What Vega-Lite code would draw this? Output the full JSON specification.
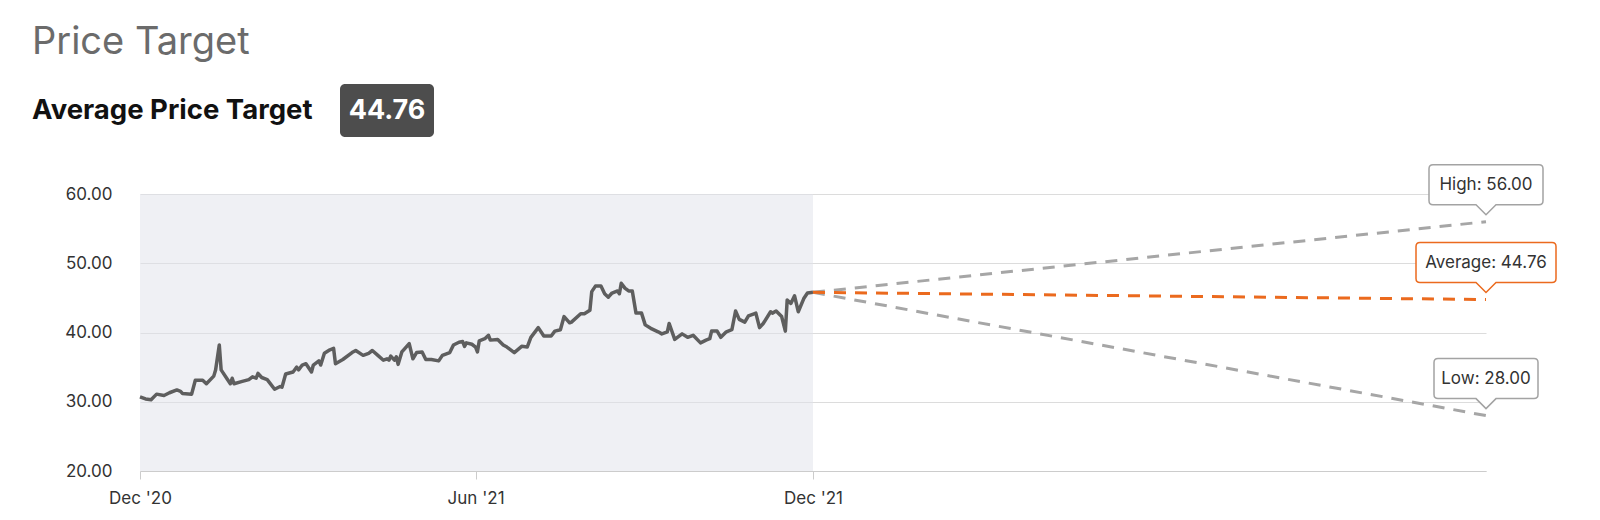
{
  "$schema": "https://vega.github.io/schema/vega-lite/v6.json",
  "width": 1346,
  "height": 277,
  "autosize": {"type": "none"},
  "padding": {"left": 140, "top": 194, "right": 114, "bottom": 49},
  "background": "white",
  "config": {
    "view": {"stroke": null},
    "font": "Inter"
  },
  "title": {
    "text": "Price Target",
    "subtitle": "Average Price Target",
    "anchor": "start",
    "frame": "group",
    "dx": -108,
    "offset": 60,
    "dy": 100,
    "font": "Inter",
    "fontSize": 38,
    "fontWeight": "normal",
    "color": "#6b6b6b",
    "subtitleFont": "Inter",
    "subtitleFontSize": 27.5,
    "subtitleFontWeight": "bold",
    "subtitleColor": "#111111",
    "subtitlePadding": 35
  },
  "datasets": {
    "shade": [{"start": "2020-12-01", "end": "2021-12-01"}],
    "summary": [{"label": "Average Price Target", "value": "44.76"}],
    "prices": [
      {"date": "2020-12-01", "price": 30.7},
      {"date": "2020-12-04", "price": 30.4},
      {"date": "2020-12-07", "price": 30.3},
      {"date": "2020-12-10", "price": 31.1},
      {"date": "2020-12-14", "price": 30.9},
      {"date": "2020-12-17", "price": 31.3},
      {"date": "2020-12-21", "price": 31.7},
      {"date": "2020-12-23", "price": 31.5},
      {"date": "2020-12-24", "price": 31.2},
      {"date": "2020-12-29", "price": 31.1},
      {"date": "2020-12-31", "price": 33.1},
      {"date": "2021-01-04", "price": 33.1},
      {"date": "2021-01-06", "price": 32.6},
      {"date": "2021-01-10", "price": 33.7},
      {"date": "2021-01-11", "price": 34.6},
      {"date": "2021-01-13", "price": 38.2},
      {"date": "2021-01-14", "price": 34.6},
      {"date": "2021-01-17", "price": 33.4},
      {"date": "2021-01-19", "price": 32.6},
      {"date": "2021-01-20", "price": 33.4},
      {"date": "2021-01-21", "price": 32.6},
      {"date": "2021-01-25", "price": 32.9},
      {"date": "2021-01-29", "price": 33.2},
      {"date": "2021-01-31", "price": 33.6},
      {"date": "2021-02-02", "price": 33.4},
      {"date": "2021-02-03", "price": 34.1},
      {"date": "2021-02-05", "price": 33.5},
      {"date": "2021-02-08", "price": 33.2},
      {"date": "2021-02-12", "price": 31.8},
      {"date": "2021-02-15", "price": 32.2},
      {"date": "2021-02-16", "price": 32.1},
      {"date": "2021-02-18", "price": 34.0},
      {"date": "2021-02-22", "price": 34.3},
      {"date": "2021-02-24", "price": 35.0},
      {"date": "2021-02-25", "price": 34.6},
      {"date": "2021-02-27", "price": 35.3},
      {"date": "2021-03-01", "price": 35.5},
      {"date": "2021-03-04", "price": 34.3},
      {"date": "2021-03-05", "price": 35.3},
      {"date": "2021-03-08", "price": 35.9},
      {"date": "2021-03-09", "price": 35.3},
      {"date": "2021-03-11", "price": 37.0},
      {"date": "2021-03-14", "price": 37.5},
      {"date": "2021-03-16", "price": 37.7},
      {"date": "2021-03-17", "price": 35.5},
      {"date": "2021-03-21", "price": 36.1},
      {"date": "2021-03-26", "price": 37.1},
      {"date": "2021-03-28", "price": 37.4},
      {"date": "2021-04-01", "price": 36.7},
      {"date": "2021-04-04", "price": 37.0},
      {"date": "2021-04-06", "price": 37.4},
      {"date": "2021-04-09", "price": 36.7},
      {"date": "2021-04-12", "price": 36.0},
      {"date": "2021-04-14", "price": 36.2},
      {"date": "2021-04-15", "price": 36.0},
      {"date": "2021-04-16", "price": 36.6},
      {"date": "2021-04-18", "price": 36.0},
      {"date": "2021-04-19", "price": 36.5},
      {"date": "2021-04-20", "price": 35.4},
      {"date": "2021-04-22", "price": 37.2},
      {"date": "2021-04-23", "price": 37.5},
      {"date": "2021-04-26", "price": 38.4},
      {"date": "2021-04-28", "price": 36.2},
      {"date": "2021-04-30", "price": 37.1},
      {"date": "2021-05-03", "price": 37.2},
      {"date": "2021-05-05", "price": 36.1},
      {"date": "2021-05-08", "price": 36.1},
      {"date": "2021-05-12", "price": 35.9},
      {"date": "2021-05-14", "price": 36.7},
      {"date": "2021-05-18", "price": 37.1},
      {"date": "2021-05-20", "price": 38.2},
      {"date": "2021-05-23", "price": 38.6},
      {"date": "2021-05-25", "price": 38.7},
      {"date": "2021-05-26", "price": 38.0},
      {"date": "2021-05-27", "price": 38.5},
      {"date": "2021-05-30", "price": 38.3},
      {"date": "2021-06-01", "price": 37.9},
      {"date": "2021-06-02", "price": 37.2},
      {"date": "2021-06-03", "price": 38.8},
      {"date": "2021-06-06", "price": 39.1},
      {"date": "2021-06-08", "price": 39.6},
      {"date": "2021-06-09", "price": 38.9},
      {"date": "2021-06-13", "price": 39.0},
      {"date": "2021-06-16", "price": 38.2},
      {"date": "2021-06-18", "price": 37.9},
      {"date": "2021-06-22", "price": 37.1},
      {"date": "2021-06-26", "price": 38.0},
      {"date": "2021-06-29", "price": 37.9},
      {"date": "2021-07-01", "price": 39.3},
      {"date": "2021-07-05", "price": 40.7},
      {"date": "2021-07-08", "price": 39.5},
      {"date": "2021-07-12", "price": 39.5},
      {"date": "2021-07-14", "price": 40.2},
      {"date": "2021-07-17", "price": 40.4},
      {"date": "2021-07-19", "price": 42.3},
      {"date": "2021-07-22", "price": 41.4},
      {"date": "2021-07-23", "price": 41.5},
      {"date": "2021-07-28", "price": 42.7},
      {"date": "2021-07-30", "price": 42.7},
      {"date": "2021-08-02", "price": 43.2},
      {"date": "2021-08-03", "price": 45.9},
      {"date": "2021-08-05", "price": 46.7},
      {"date": "2021-08-08", "price": 46.7},
      {"date": "2021-08-10", "price": 45.6},
      {"date": "2021-08-12", "price": 45.1},
      {"date": "2021-08-14", "price": 45.7},
      {"date": "2021-08-17", "price": 46.0},
      {"date": "2021-08-18", "price": 45.6},
      {"date": "2021-08-19", "price": 47.1},
      {"date": "2021-08-21", "price": 46.4},
      {"date": "2021-08-23", "price": 46.0},
      {"date": "2021-08-25", "price": 46.0},
      {"date": "2021-08-27", "price": 42.8},
      {"date": "2021-08-30", "price": 42.8},
      {"date": "2021-09-01", "price": 41.1},
      {"date": "2021-09-04", "price": 40.6},
      {"date": "2021-09-08", "price": 40.1},
      {"date": "2021-09-10", "price": 39.8},
      {"date": "2021-09-13", "price": 40.1},
      {"date": "2021-09-14", "price": 41.3},
      {"date": "2021-09-17", "price": 39.0},
      {"date": "2021-09-21", "price": 39.8},
      {"date": "2021-09-24", "price": 39.3},
      {"date": "2021-09-27", "price": 39.6},
      {"date": "2021-10-01", "price": 38.5},
      {"date": "2021-10-04", "price": 38.9},
      {"date": "2021-10-06", "price": 39.1},
      {"date": "2021-10-07", "price": 40.2},
      {"date": "2021-10-10", "price": 40.2},
      {"date": "2021-10-12", "price": 39.3},
      {"date": "2021-10-15", "price": 40.1},
      {"date": "2021-10-18", "price": 40.4},
      {"date": "2021-10-20", "price": 43.1},
      {"date": "2021-10-22", "price": 41.9},
      {"date": "2021-10-25", "price": 41.5},
      {"date": "2021-10-27", "price": 42.4},
      {"date": "2021-10-30", "price": 42.7},
      {"date": "2021-10-31", "price": 42.8},
      {"date": "2021-11-02", "price": 40.7},
      {"date": "2021-11-04", "price": 41.3},
      {"date": "2021-11-08", "price": 43.0},
      {"date": "2021-11-09", "price": 42.8},
      {"date": "2021-11-11", "price": 43.1},
      {"date": "2021-11-14", "price": 42.3},
      {"date": "2021-11-16", "price": 40.2},
      {"date": "2021-11-17", "price": 44.7},
      {"date": "2021-11-19", "price": 44.2},
      {"date": "2021-11-21", "price": 45.3},
      {"date": "2021-11-23", "price": 43.0},
      {"date": "2021-11-26", "price": 44.9},
      {"date": "2021-11-28", "price": 45.7},
      {"date": "2021-12-01", "price": 45.8}
    ],
    "targets": [
      {"series": "High", "date": "2021-12-01", "price": 45.8},
      {"series": "High", "date": "2022-12-01", "price": 56.0, "label": "High: 56.00"},
      {"series": "Low", "date": "2021-12-01", "price": 45.8},
      {"series": "Low", "date": "2022-12-01", "price": 28.0, "label": "Low: 28.00"},
      {"series": "Average", "date": "2021-12-01", "price": 45.8},
      {"series": "Average", "date": "2022-12-01", "price": 44.76, "label": "Average: 44.76"}
    ]
  },
  "encoding": {
    "x": {
      "field": "date",
      "type": "temporal",
      "scale": {
        "type": "utc",
        "domain": [
          {"year": 2020, "month": 12, "date": 1, "utc": true},
          {"year": 2022, "month": 12, "date": 1, "utc": true}
        ]
      },
      "axis": {
        "title": null,
        "values": [
          {"year": 2020, "month": 12, "date": 1, "utc": true},
          {"year": 2021, "month": 6, "date": 1, "utc": true},
          {"year": 2021, "month": 12, "date": 1, "utc": true}
        ],
        "format": "%b '%y",
        "grid": false,
        "domainColor": "#cccccc",
        "domainWidth": 1,
        "ticks": true,
        "tickColor": "#cccccc",
        "tickSize": 8,
        "labelPadding": 11,
        "labelFont": "Inter",
        "labelFontSize": 17,
        "labelColor": "#333333",
        "labelFlush": false
      }
    },
    "y": {
      "field": "price",
      "type": "quantitative",
      "scale": {"domain": [20, 60], "zero": false, "nice": false},
      "axis": {
        "title": null,
        "values": [20, 30, 40, 50, 60],
        "format": ".2f",
        "domain": false,
        "ticks": false,
        "grid": true,
        "gridColor": "#dcdcdc",
        "gridWidth": 1,
        "labelPadding": 28,
        "labelFont": "Inter",
        "labelFontSize": 17,
        "labelColor": "#333333"
      }
    }
  },
  "layer": [
    {
      "data": {"name": "shade"},
      "mark": {"type": "rect", "color": "#dfe1e9", "opacity": 0.5},
      "encoding": {
        "x": {"field": "start", "type": "temporal"},
        "x2": {"field": "end"},
        "y": null
      }
    },
    {
      "data": {"name": "prices"},
      "mark": {"type": "line", "color": "#5e5e5e", "strokeWidth": 3.5, "strokeJoin": "round"}
    },
    {
      "data": {"name": "targets"},
      "mark": {"type": "line", "strokeWidth": 3, "strokeDash": [12, 9]},
      "encoding": {
        "color": {
          "field": "series",
          "type": "nominal",
          "scale": {"domain": ["High", "Low", "Average"], "range": ["#a6a6a6", "#a6a6a6", "#eb6a1e"]},
          "legend": null
        },
        "order": {"field": "date", "type": "temporal"}
      }
    },
    {
      "data": {"name": "targets"},
      "transform": [{"filter": "datum.series === 'High' && datum.label"}],
      "mark": {
        "type": "point",
        "filled": true,
        "fill": "white",
        "stroke": "#a3a3a3",
        "strokeWidth": 1.5,
        "opacity": 1,
        "size": 6400,
        "shape": "M-1.325,-1.425L1.325,-1.425Q1.425,-1.425 1.425,-1.325L1.425,-0.525Q1.425,-0.425 1.325,-0.425L0.25,-0.425L0,-0.175L-0.25,-0.425L-1.325,-0.425Q-1.425,-0.425 -1.425,-0.525L-1.425,-1.325Q-1.425,-1.425 -1.325,-1.425Z"
      }
    },
    {
      "data": {"name": "targets"},
      "transform": [{"filter": "datum.series === 'Low' && datum.label"}],
      "mark": {
        "type": "point",
        "filled": true,
        "fill": "white",
        "stroke": "#a3a3a3",
        "strokeWidth": 1.5,
        "opacity": 1,
        "size": 6400,
        "shape": "M-1.2,-1.425L1.2,-1.425Q1.3,-1.425 1.3,-1.325L1.3,-0.525Q1.3,-0.425 1.2,-0.425L0.25,-0.425L0,-0.175L-0.25,-0.425L-1.2,-0.425Q-1.3,-0.425 -1.3,-0.525L-1.3,-1.325Q-1.3,-1.425 -1.2,-1.425Z"
      }
    },
    {
      "data": {"name": "targets"},
      "transform": [{"filter": "datum.series === 'Average' && datum.label"}],
      "mark": {
        "type": "point",
        "filled": true,
        "fill": "white",
        "stroke": "#eb6a1e",
        "strokeWidth": 1.5,
        "opacity": 1,
        "size": 6400,
        "shape": "M-1.65,-1.425L1.65,-1.425Q1.75,-1.425 1.75,-1.325L1.75,-0.525Q1.75,-0.425 1.65,-0.425L0.25,-0.425L0,-0.175L-0.25,-0.425L-1.65,-0.425Q-1.75,-0.425 -1.75,-0.525L-1.75,-1.325Q-1.75,-1.425 -1.65,-1.425Z"
      }
    },
    {
      "data": {"name": "targets"},
      "transform": [{"filter": "datum.label"}],
      "mark": {"type": "text", "dy": -37, "baseline": "middle", "align": "center", "font": "Inter", "fontSize": 17, "color": "#333333"},
      "encoding": {"text": {"field": "label"}}
    },
    {
      "data": {"name": "summary"},
      "mark": {"type": "rect", "color": "#4d4d4d", "cornerRadius": 5},
      "encoding": {
        "x": {"value": 200},
        "x2": {"value": 294},
        "y": {"value": -110},
        "y2": {"value": -57}
      }
    },
    {
      "data": {"name": "summary"},
      "mark": {"type": "text", "font": "Inter", "fontSize": 27, "fontWeight": "bold", "color": "white", "align": "center", "baseline": "middle"},
      "encoding": {
        "x": {"value": 247},
        "y": {"value": -83},
        "text": {"field": "value"}
      }
    }
  ]
}
